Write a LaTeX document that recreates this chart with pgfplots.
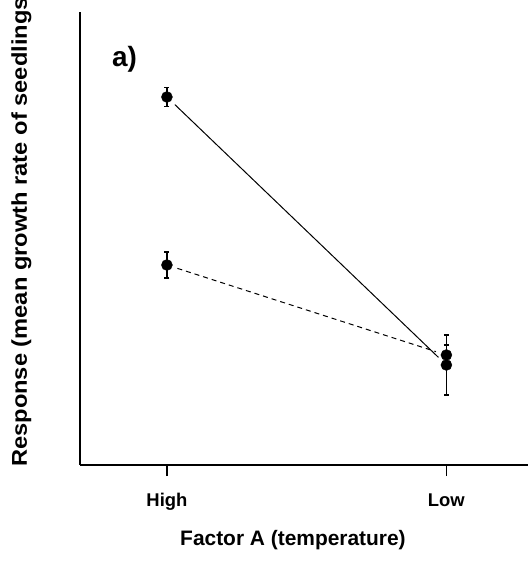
\documentclass[border=0pt]{standalone}
\usepackage{fontspec}
\setmainfont{Liberation Sans}
\usepackage{graphicx}
\usepackage{pgfplots}
\pgfplotsset{compat=1.18}
\begin{document}
\begin{tikzpicture}
\useasboundingbox (0,0) rectangle (528bp,565bp);
\clip (0,0) rectangle (528bp,565bp);
\begin{axis}[
  at={(80bp,100bp)}, anchor=south west,
  scale only axis, width=448bp, height=453bp,
  xmin=-0.311, xmax=1.292, ymin=0, ymax=453,
  axis x line*=bottom, axis y line*=left,
  axis line style={line width=1.2bp},
  xtick={0,1}, xticklabels={High,Low}, ytick=\empty,
  tick align=outside, major tick length=11bp,
  tick style={line width=1.2bp, black},
  xticklabel style={font=\fontsize{18.5}{20}\selectfont\bfseries, yshift=-14bp},
  xlabel={Factor A (temperature)},
  xlabel style={font=\fontsize{21}{24}\selectfont\bfseries, at={(axis description cs:0.4754,0)}, anchor=base, yshift=-80bp, inner sep=0pt},
  ylabel={\scalebox{1.105}[1]{Response (mean growth rate of seedlings)}},
  ylabel style={font=\fontsize{21.5}{24}\selectfont\bfseries, at={(axis description cs:0,0)}, anchor=base west, yshift=53bp, xshift=-2bp, inner sep=0pt},
  clip=false,
]
% connecting lines (drawn with gaps at the points)
\addplot[black, line width=1bp, no marks, shorten >=11bp, shorten <=11bp] coordinates {(0,368) (1,100)};
\addplot[black, line width=1bp, no marks, dash pattern=on 5bp off 4bp, shorten >=11bp, shorten <=11bp] coordinates {(0,200) (1,110)};
% points with error bars
\addplot[black, only marks, mark=*, mark size=5.5bp, mark options={fill=black},
  error bars/.cd, y dir=both, y explicit,
  error bar style={line width=1.2bp, black},
  error mark options={rotate=90, mark size=2.5bp, line width=1.2bp, black}]
  coordinates {(0,368) +- (0,9.5) (1,100) +- (0,30)};
\addplot[black, only marks, mark=*, mark size=5.5bp, mark options={fill=black},
  error bars/.cd, y dir=both, y explicit,
  error bar style={line width=1.2bp, black},
  error mark options={rotate=90, mark size=2.5bp, line width=1.2bp, black}]
  coordinates {(0,200) +- (0,13) (1,110) +- (0,10)};
\node[anchor=base west, inner sep=0pt, font=\fontsize{28}{30}\selectfont\bfseries] at (axis cs:-0.197,398) {a)};
\end{axis}
\end{tikzpicture}
\end{document}
